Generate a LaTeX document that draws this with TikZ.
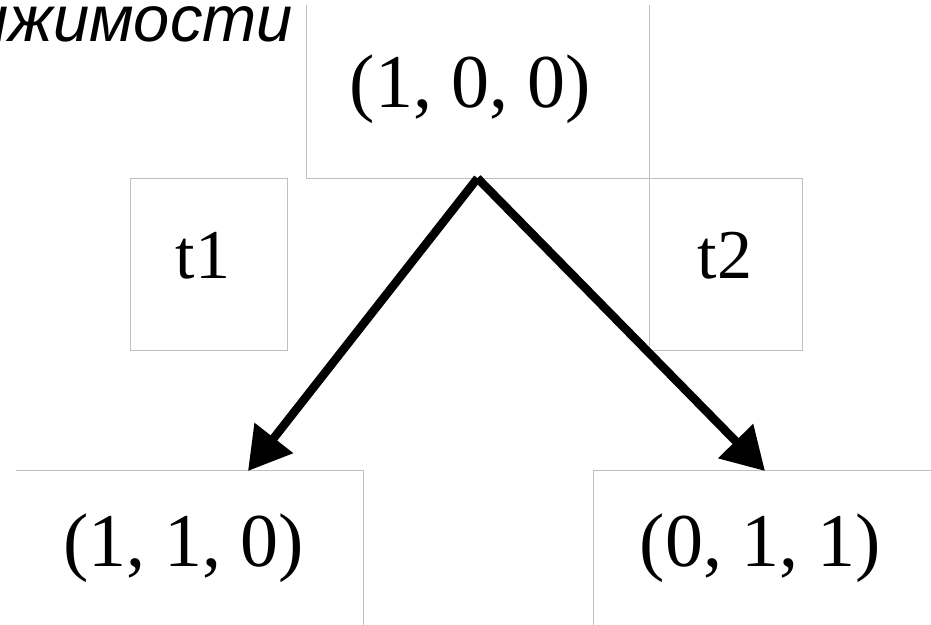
\documentclass[tikz,border=0pt]{standalone}
\usepackage{fontspec}
\setmainfont{Liberation Serif}
\newfontfamily\cyrsans{Liberation Sans}
\usetikzlibrary{arrows.meta}
\begin{document}
\begin{tikzpicture}[x=1pt,y=-1pt,
  boxline/.style={draw=black!25,line width=1pt},
  coord/.style={font=\fontsize{76}{76}\selectfont,inner sep=0pt,anchor=base},
  tlbl/.style={font=\fontsize{70}{70}\selectfont,inner sep=0pt,anchor=base},
  conn/.style={line width=8.5pt,line join=round,-{Triangle[length=42pt,width=47pt]}}]
\useasboundingbox (0,0) rectangle (931,624);
\clip (0,0) rectangle (931,624);
% boxes
\node[inner sep=0pt,minimum width=343pt,minimum height=173pt] (top) at (477.5,91.5) {};
\draw[boxline] (306,5) -- (306,178) -- (649,178) -- (649,5);
\node[boxline,inner sep=0pt,minimum width=157pt,minimum height=172pt] (t1box) at (208.5,264) {};
\node[boxline,inner sep=0pt,minimum width=153pt,minimum height=172pt] (t2box) at (725.5,264) {};
\node[inner sep=0pt,minimum width=347pt,minimum height=160pt] (blbox) at (189.5,550) {};
\draw[boxline] (16,470) -- (363,470) -- (363,630);
\node[inner sep=0pt,minimum width=340pt,minimum height=160pt] (brbox) at (763,550) {};
\draw[boxline] (593,630) -- (593,470) -- (940,470);
% texts
\node[coord] (a) at (470,107) {(1, 0, 0)};
\node[tlbl] (t1) at (203,278) {t1};
\node[tlbl] (t2) at (725,278) {t2};
\node[coord] (b) at (183.5,566) {(1, 1, 0)};
\node[coord] (c) at (760,566) {(0, 1, 1)};
\node[anchor=base east,inner sep=0pt,font=\cyrsans\itshape\fontsize{65}{65}\selectfont] (title) at (293,41) {ижимости};
% connectors
\coordinate (tipL) at (248,471);
\coordinate (tipR) at (765,471);
\draw[conn] (top.south) -- (tipL);
\draw[conn] (top.south) -- (tipR);
\end{tikzpicture}
\end{document}
